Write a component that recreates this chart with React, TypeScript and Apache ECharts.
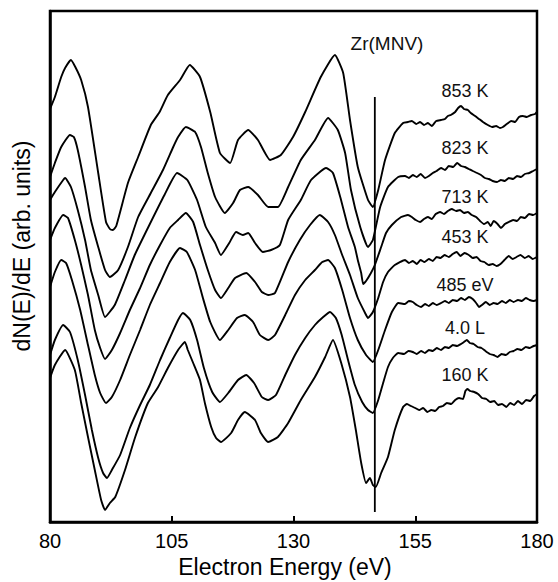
import React, { useEffect, useRef } from "react";
import * as echarts from "echarts";

// Electron energy (eV) vs dN(E)/dE (arb. units, vertically offset spectra)
const energyMin = 80;
const energyMax = 180;
const energyStep = 25;
const yMin = 0;
const yMax = 511;

const c853K: [number, number][] = [
  [80.0, 413], [81.0, 425], [82.3, 445], [83.1, 454], [84.3, 462], [85.2, 455], [86.4, 442], [87.8, 415],
  [89.9, 349], [91.5, 300], [92.3, 293], [92.9, 292], [93.6, 296], [96.0, 339], [98.1, 365], [100.7, 397],
  [102.5, 410], [104.2, 427], [106.7, 442], [108.7, 457], [110.8, 445], [112.9, 410], [114.9, 369], [117.0, 359],
  [118.6, 382], [120.7, 392], [122.7, 382], [125.2, 362], [127.4, 367], [129.9, 385], [132.4, 410], [135.6, 445],
  [138.5, 467], [140.2, 449], [141.6, 402], [143.2, 355], [145.3, 322], [146.3, 315], [147.4, 332], [148.8, 362],
  [150.8, 389], [152.5, 399], [153.5, 400], [154.3, 401], [155.2, 398], [156.0, 400], [156.8, 397], [157.6, 399],
  [158.4, 396], [159.3, 401], [160.3, 402], [161.1, 403], [161.7, 406], [162.3, 407], [163.2, 410], [163.8, 414],
  [164.4, 416], [165.0, 413], [165.8, 412], [166.4, 409], [167.3, 406], [168.1, 403], [168.9, 400], [169.9, 397],
  [170.8, 395], [171.6, 396], [172.4, 394], [173.0, 395], [173.8, 398], [174.7, 401], [175.5, 400], [176.3, 405],
  [177.1, 406], [177.9, 405], [178.8, 407], [179.6, 408], [180.0, 410],
];

const c823K: [number, number][] = [
  [80.0, 345], [81.0, 359], [82.3, 375], [84.1, 387], [84.9, 385], [85.7, 372], [87.2, 335], [88.4, 302],
  [89.9, 275], [91.3, 252], [92.3, 245], [94.0, 252], [96.0, 275], [98.1, 305], [100.7, 329], [103.2, 352],
  [105.3, 375], [106.3, 385], [107.9, 395], [109.8, 390], [111.0, 375], [112.4, 349], [113.9, 325], [115.9, 309],
  [117.6, 319], [119.0, 332], [120.7, 335], [122.7, 327], [124.8, 315], [126.8, 315], [128.9, 335], [131.5, 362],
  [134.4, 382], [137.1, 404], [139.1, 392], [140.6, 369], [141.8, 332], [143.7, 295], [145.3, 275], [146.3, 282],
  [147.8, 315], [149.4, 335], [151.5, 345], [152.9, 346], [153.7, 344], [154.5, 347], [155.3, 345], [156.1, 348],
  [157.0, 344], [157.8, 346], [158.6, 349], [159.4, 351], [160.3, 354], [161.1, 352], [161.9, 356], [162.8, 355],
  [163.6, 359], [164.4, 356], [165.2, 355], [166.0, 353], [166.8, 351], [167.7, 349], [168.5, 347], [169.3, 344],
  [170.1, 343], [170.9, 341], [171.8, 340], [172.6, 342], [173.4, 341], [174.2, 344], [175.1, 343], [175.9, 346],
  [176.7, 345], [177.5, 348], [178.4, 349], [179.2, 351], [180.0, 353],
];

const c713K: [number, number][] = [
  [80.0, 322], [81.0, 330], [82.7, 342], [83.1, 344], [84.3, 335], [85.7, 312], [87.2, 282], [88.4, 252],
  [89.9, 227], [91.3, 205], [93.3, 217], [95.4, 242], [97.4, 267], [100.4, 297], [103.5, 327], [106.1, 349],
  [108.2, 342], [110.2, 322], [112.0, 295], [113.9, 279], [115.1, 267], [116.8, 279], [118.2, 290], [119.6, 287],
  [120.7, 289], [122.1, 279], [123.7, 270], [125.4, 272], [127.2, 277], [128.9, 302], [131.5, 322], [133.6, 342],
  [136.7, 354], [138.1, 349], [139.6, 325], [141.2, 295], [142.6, 275], [143.2, 262], [143.9, 249], [144.3, 238],
  [144.9, 241], [145.9, 249], [146.7, 257], [148.0, 275], [149.0, 289], [150.2, 297], [152.1, 305], [153.5, 307],
  [154.3, 305], [155.1, 302], [156.0, 300], [156.8, 303], [157.6, 305], [158.4, 303], [159.2, 308], [160.1, 310],
  [160.9, 308], [161.7, 311], [162.5, 313], [163.4, 311], [164.2, 312], [165.0, 309], [165.8, 310], [166.6, 307],
  [167.5, 305], [168.3, 301], [169.1, 298], [169.9, 300], [170.5, 296], [171.1, 301], [171.9, 298], [172.6, 294],
  [173.4, 298], [174.2, 300], [175.1, 302], [175.9, 301], [176.7, 305], [177.5, 304], [178.4, 308], [179.2, 307],
  [180.0, 309],
];

const c453K: [number, number][] = [
  [80.0, 282], [81.0, 294], [82.7, 307], [83.7, 304], [85.1, 282], [86.4, 257], [87.8, 227], [89.2, 192],
  [90.3, 174], [91.3, 163], [92.7, 172], [94.4, 189], [96.4, 212], [98.5, 234], [100.5, 257], [102.6, 277],
  [104.6, 294], [106.3, 302], [107.9, 309], [109.4, 300], [110.8, 277], [112.4, 252], [113.9, 232], [115.1, 224],
  [116.6, 234], [118.0, 244], [120.3, 249], [122.1, 240], [123.5, 230], [124.8, 227], [126.2, 229], [128.9, 260],
  [131.3, 282], [133.4, 297], [135.4, 307], [137.1, 300], [138.5, 287], [140.0, 267], [141.6, 247], [143.2, 224],
  [144.7, 209], [145.3, 204], [146.3, 210], [147.4, 224], [148.4, 240], [149.4, 250], [150.8, 257], [152.9, 262],
  [153.7, 259], [154.5, 261], [155.3, 258], [156.1, 262], [156.9, 260], [157.8, 263], [158.6, 261], [159.4, 265],
  [160.2, 264], [161.0, 267], [161.9, 265], [162.7, 268], [163.5, 270], [164.3, 266], [165.1, 269], [166.0, 267],
  [166.8, 264], [167.6, 265], [168.4, 261], [169.2, 260], [170.1, 257], [170.9, 258], [171.7, 256], [172.5, 258],
  [173.3, 262], [174.2, 266], [175.0, 263], [175.8, 265], [176.6, 267], [177.5, 264], [178.3, 266], [179.1, 263],
  [180.0, 265],
];

const c485eV: [number, number][] = [
  [80.0, 235], [81.0, 250], [82.3, 262], [83.3, 259], [84.5, 242], [86.2, 212], [87.8, 177], [89.2, 147],
  [90.3, 129], [91.5, 119], [92.7, 125], [94.4, 142], [96.4, 167], [98.5, 192], [100.5, 217], [102.6, 239],
  [104.6, 260], [106.7, 274], [108.1, 270], [109.8, 252], [111.4, 224], [112.9, 200], [114.9, 182], [116.6, 192],
  [118.4, 204], [120.0, 207], [121.7, 200], [123.1, 187], [124.8, 182], [126.2, 187], [128.3, 207], [130.3, 227],
  [132.4, 242], [134.4, 252], [135.9, 260], [137.1, 262], [138.5, 254], [140.0, 232], [141.6, 204], [143.2, 182],
  [144.9, 167], [146.3, 160], [147.4, 172], [148.8, 192], [150.2, 210], [151.5, 219], [152.9, 218], [153.7, 221],
  [154.5, 220], [155.3, 217], [156.2, 215], [157.0, 218], [157.8, 216], [158.6, 219], [159.4, 217], [160.3, 219],
  [161.1, 221], [161.9, 219], [162.7, 222], [163.6, 221], [164.4, 224], [165.2, 222], [166.0, 225], [166.8, 223],
  [167.5, 219], [168.1, 215], [168.7, 217], [169.5, 220], [170.3, 217], [171.1, 219], [171.9, 218], [172.8, 221],
  [173.6, 219], [174.4, 222], [175.2, 220], [176.1, 222], [176.9, 221], [177.7, 224], [178.5, 222], [179.3, 221],
  [180.0, 222],
];

const c4L: [number, number][] = [
  [80.0, 167], [81.0, 182], [82.7, 197], [84.1, 190], [85.7, 162], [87.2, 127], [88.6, 92], [89.9, 64],
  [90.9, 49], [91.7, 44], [92.7, 52], [94.4, 67], [96.4, 94], [98.5, 117], [100.5, 137], [102.6, 162],
  [104.6, 184], [106.3, 202], [107.3, 209], [108.8, 202], [110.2, 182], [111.6, 154], [113.3, 130], [114.9, 120],
  [116.6, 129], [118.6, 142], [120.3, 147], [121.9, 139], [123.5, 125], [124.8, 122], [126.4, 127], [128.3, 147],
  [130.3, 167], [132.4, 184], [134.4, 197], [136.1, 205], [137.5, 210], [138.7, 204], [139.9, 187], [141.2, 162],
  [142.6, 137], [144.1, 120], [145.3, 112], [146.3, 109], [147.4, 122], [148.4, 139], [149.4, 155], [150.4, 164],
  [151.5, 169], [152.7, 168], [153.6, 171], [154.5, 170], [155.3, 168], [156.2, 171], [157.0, 169], [157.8, 172],
  [158.6, 171], [159.4, 174], [160.3, 172], [161.1, 175], [161.9, 174], [162.7, 177], [163.6, 176], [164.4, 178],
  [165.0, 180], [165.6, 182], [166.2, 179], [167.0, 178], [167.8, 175], [168.6, 174], [169.4, 171], [170.3, 168],
  [171.1, 167], [171.9, 165], [172.7, 168], [173.6, 167], [174.4, 170], [175.2, 171], [176.0, 173], [176.8, 172],
  [177.7, 175], [178.5, 174], [179.3, 176], [180.0, 177],
];

const c160K: [number, number][] = [
  [80.0, 144], [81.0, 157], [83.1, 172], [85.1, 152], [86.4, 119], [87.8, 85], [89.2, 52], [90.5, 22],
  [91.3, 12], [92.3, 19], [93.4, 25], [95.4, 52], [97.5, 85], [100.1, 119], [102.2, 135], [104.2, 154],
  [106.3, 172], [107.7, 180], [108.3, 172], [109.4, 159], [110.8, 142], [111.8, 119], [113.1, 95], [114.1, 84],
  [115.1, 80], [117.2, 89], [118.6, 102], [120.0, 110], [122.1, 102], [123.3, 89], [124.8, 80], [126.8, 85],
  [128.9, 99], [131.5, 122], [134.4, 145], [136.5, 165], [138.1, 182], [139.8, 159], [141.6, 125], [142.8, 92],
  [143.9, 59], [144.9, 39], [145.7, 44], [146.3, 37], [146.9, 35], [148.0, 49], [149.4, 65], [150.8, 92],
  [152.5, 115], [153.3, 118], [154.1, 116], [155.0, 114], [155.8, 112], [156.6, 114], [157.5, 110], [158.3, 112],
  [159.1, 111], [159.9, 115], [160.7, 116], [161.5, 119], [162.4, 118], [163.2, 122], [164.0, 124], [164.8, 123],
  [165.3, 131], [165.7, 133], [166.3, 131], [167.1, 130], [167.9, 128], [168.7, 124], [169.6, 123], [170.4, 120],
  [171.2, 121], [172.0, 117], [172.8, 118], [173.7, 115], [174.5, 119], [175.3, 117], [176.1, 121], [176.9, 118],
  [177.8, 122], [178.6, 121], [179.4, 126], [180.0, 128],
];

const spectra = [c853K, c823K, c713K, c453K, c485eV, c4L, c160K];
const spectrumLabels = ["853 K", "823 K", "713 K", "453 K", "485 eV", "4.0 L", "160 K"];
const labelCentersY = [91, 148, 197, 237, 285, 328, 375];

const zrEdgeEnergy = 146.7;
const zrEdgeRange = [10, 425];
const zrLabel = "Zr(MNV)";

const xTitle = "Electron Energy (eV)";
const yTitle = "dN(E)/dE (arb. units)";

const FONT = "'Liberation Sans', Arial, Helvetica, sans-serif";

export default function App() {
  const ref = useRef<HTMLDivElement>(null);
  useEffect(() => {
    if (!ref.current) return;
    const chart = echarts.init(ref.current, null, { renderer: "svg" });
    const series: any[] = spectra.map((d, i) => ({
      type: "line",
      name: spectrumLabels[i],
      data: d,
      showSymbol: false,
      symbol: "none",
      silent: true,
      smooth: 0.15,
      lineStyle: { color: "#000", width: 1.9 },
      z: 3,
    }));
    series.push({
      type: "line",
      name: "edge",
      data: [
        [zrEdgeEnergy, zrEdgeRange[0]],
        [zrEdgeEnergy, zrEdgeRange[1]],
      ],
      showSymbol: false,
      symbol: "none",
      silent: true,
      lineStyle: { color: "#000", width: 1.8 },
      z: 4,
    });
    const labelTexts: any[] = spectrumLabels.map((t, i) => ({
      type: "text",
      x: 465,
      y: labelCentersY[i],
      style: {
        text: t,
        font: `18px ${FONT}`,
        fill: "#111",
        textAlign: "center",
        textVerticalAlign: "middle",
        align: "center",
        verticalAlign: "middle",
      },
    }));
    chart.setOption({
      animation: false,
      textStyle: { fontFamily: FONT },
      grid: {
        left: 50,
        right: 21,
        top: 11,
        bottom: 60,
        show: true,
        borderColor: "#000",
        borderWidth: 2.5,
        backgroundColor: "transparent",
      },
      xAxis: {
        type: "value",
        min: energyMin,
        max: energyMax,
        interval: energyStep,
        splitLine: { show: false },
        axisLine: { show: true, lineStyle: { color: "#000", width: 2.5 } },
        axisTick: { show: true, inside: true, length: 6, lineStyle: { color: "#000", width: 2 } },
        axisLabel: { color: "#000", fontSize: 20, margin: 9, fontFamily: FONT },
      },
      yAxis: {
        type: "value",
        min: yMin,
        max: yMax,
        splitLine: { show: false },
        axisLine: { show: true, lineStyle: { color: "#000", width: 2.5 } },
        axisTick: { show: false },
        axisLabel: { show: false },
      },
      graphic: [
        {
          type: "text",
          x: 285,
          y: 567,
          style: {
            text: xTitle,
            font: `23px ${FONT}`,
            fill: "#000",
            textAlign: "center",
            textVerticalAlign: "middle",
            align: "center",
            verticalAlign: "middle",
          },
        },
        {
          type: "text",
          x: 22,
          y: 246,
          rotation: Math.PI / 2,
          style: {
            text: yTitle,
            font: `23px ${FONT}`,
            fill: "#000",
            textAlign: "center",
            textVerticalAlign: "middle",
            align: "center",
            verticalAlign: "middle",
          },
        },
        {
          type: "text",
          x: 387,
          y: 43,
          style: {
            text: zrLabel,
            font: `19px ${FONT}`,
            fill: "#111",
            textAlign: "center",
            textVerticalAlign: "middle",
            align: "center",
            verticalAlign: "middle",
          },
        },
        ...labelTexts,
      ],
      series,
    });
    return () => chart.dispose();
  }, []);
  return (
    <div
      ref={ref}
      style={{ position: "fixed", left: 0, top: 0, width: 558, height: 582, background: "#fff" }}
    />
  );
}
